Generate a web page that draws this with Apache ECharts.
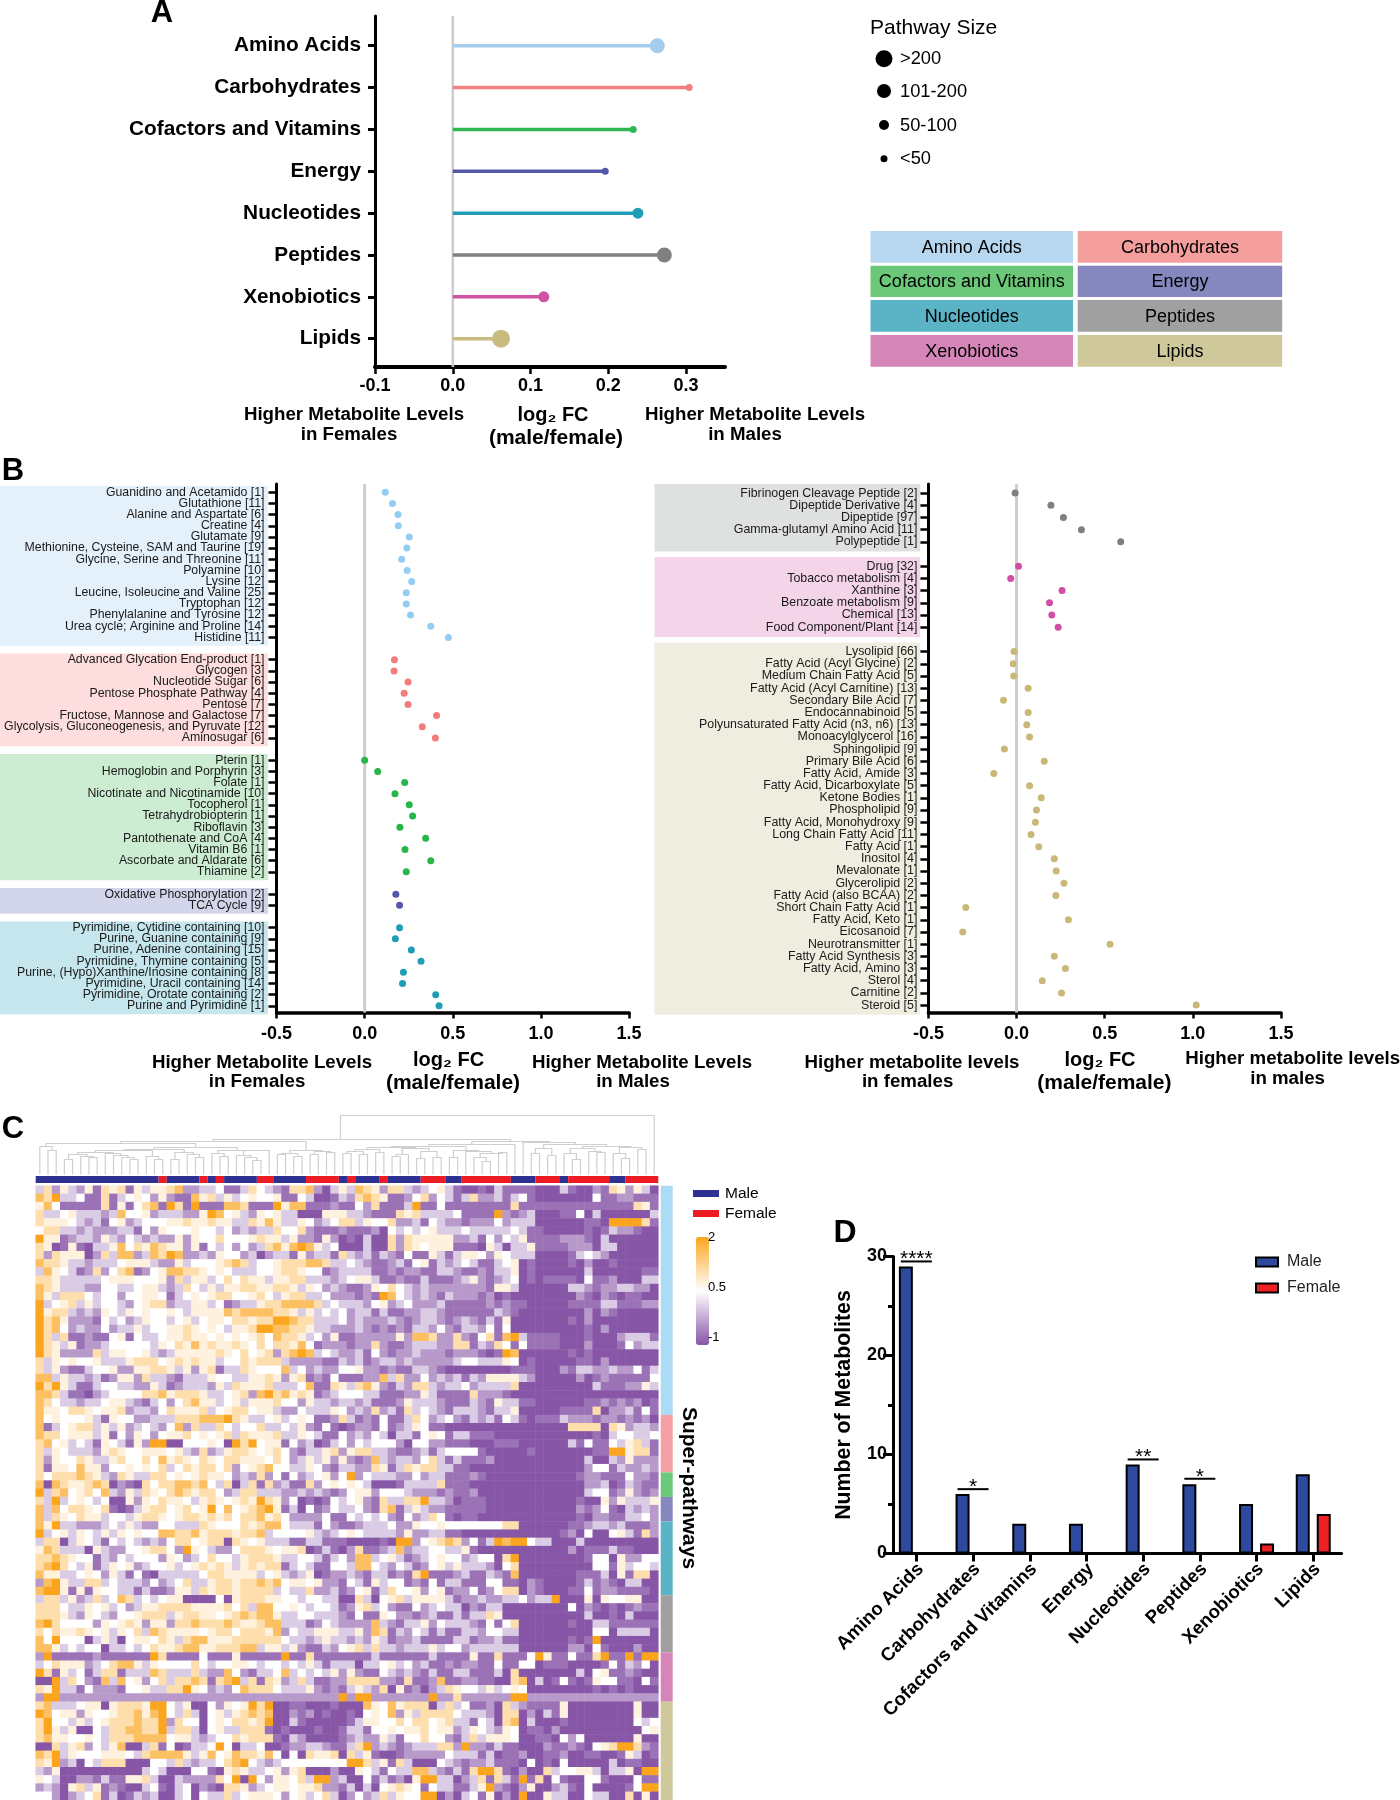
<!DOCTYPE html>
<html><head><meta charset="utf-8">
<style>html,body{margin:0;padding:0;background:#fff}#c{width:1400px;height:1800px}</style>
<script src="https://cdn.jsdelivr.net/npm/echarts@6/dist/echarts.min.js"></script>
</head><body><div id="c"></div>
<script>
// ---------- DATA ----------
const superPathways = ['Amino Acids','Carbohydrates','Cofactors and Vitamins','Energy','Nucleotides','Peptides','Xenobiotics','Lipids'];
const aValues = [0.263,0.304,0.232,0.196,0.238,0.272,0.117,0.062];
const aSizeClass = ['>200','<50','<50','<50','50-100','>200','50-100','>200+'];
const sizeLegendLabels = ['>200','101-200','50-100','<50'];

const aminoNames = ['Guanidino and Acetamido [1]','Glutathione [11]','Alanine and Aspartate [6]','Creatine [4]','Glutamate [9]','Methionine, Cysteine, SAM and Taurine [19]','Glycine, Serine and Threonine [11]','Polyamine [10]','Lysine [12]','Leucine, Isoleucine and Valine [25]','Tryptophan [12]','Phenylalanine and Tyrosine [12]','Urea cycle; Arginine and Proline [14]','Histidine [11]'];
const aminoValues = [.117,.158,.189,.191,.253,.239,.21,.241,.267,.236,.236,.26,.375,.475];
const carbNames = ['Advanced Glycation End-product [1]','Glycogen [3]','Nucleotide Sugar [6]','Pentose Phosphate Pathway [4]','Pentose [7]','Fructose, Mannose and Galactose [7]','Glycolysis, Gluconeogenesis, and Pyruvate [12]','Aminosugar [6]'];
const carbValues = [.169,.167,.246,.224,.246,.408,.327,.401];
const cofNames = ['Pterin [1]','Hemoglobin and Porphyrin [3]','Folate [1]','Nicotinate and Nicotinamide [10]','Tocopherol [1]','Tetrahydrobiopterin [1]','Riboflavin [3]','Pantothenate and CoA [4]','Vitamin B6 [1]','Ascorbate and Aldarate [6]','Thiamine [2]'];
const cofValues = [0,.074,.227,.172,.253,.272,.2,.346,.229,.375,.236];
const energyNames = ['Oxidative Phosphorylation [2]','TCA Cycle [9]'];
const energyValues = [.177,.198];
const nucNames = ['Pyrimidine, Cytidine containing [10]','Purine, Guanine containing [9]','Purine, Adenine containing [15]','Pyrimidine, Thymine containing [5]','Purine, (Hypo)Xanthine/Inosine containing [8]','Pyrimidine, Uracil containing [14]','Pyrimidine, Orotate containing [2]','Purine and Pyrimidine [1]'];
const nucValues = [.198,.174,.265,.32,.22,.215,.403,.422];
const pepNames = ['Fibrinogen Cleavage Peptide [2]','Dipeptide Derivative [4]','Dipeptide [97]','Gamma-glutamyl Amino Acid [11]','Polypeptide [1]'];
const pepValues = [-.008,.195,.266,.368,.591];
const xenoNames = ['Drug [32]','Tobacco metabolism [4]','Xanthine [3]','Benzoate metabolism [9]','Chemical [13]','Food Component/Plant [14]'];
const xenoValues = [.011,-.033,.258,.187,.2,.236];
const lipidNames = ['Lysolipid [66]','Fatty Acid (Acyl Glycine) [2]','Medium Chain Fatty Acid [5]','Fatty Acid (Acyl Carnitine) [13]','Secondary Bile Acid [7]','Endocannabinoid [5]','Polyunsaturated Fatty Acid (n3, n6) [13]','Monoacylglycerol [16]','Sphingolipid [9]','Primary Bile Acid [6]','Fatty Acid, Amide [3]','Fatty Acid, Dicarboxylate [5]','Ketone Bodies [1]','Phospholipid [9]','Fatty Acid, Monohydroxy [9]','Long Chain Fatty Acid [11]','Fatty Acid [1]','Inositol [4]','Mevalonate [1]','Glycerolipid [2]','Fatty Acid (also BCAA) [2]','Short Chain Fatty Acid [1]','Fatty Acid, Keto [1]','Eicosanoid [7]','Neurotransmitter [1]','Fatty Acid Synthesis [3]','Fatty Acid, Amino [3]','Sterol [4]','Carnitine [2]','Steroid [5]'];
const lipidValues = [-.014,-.019,-.016,.066,-.074,.066,.058,.074,-.069,.157,-.129,.074,.14,.113,.107,.082,.126,.214,.225,.269,.223,-.288,.294,-.305,.53,.214,.277,.146,.255,1.019];

// column annotation of the heat map: alternating runs, starting with Male
const sexRuns = [15,1,4,1,1,1,4,2,4,4,1,1,3,1,4,3,2,6,3,3,1,5,2,4];
// number of rows per super-pathway in the heat map
const rowsPerPathway = [28,7,3,3,9,7,6,12];
// heat-map cells: one digit per cell (colour level)
const heatLevelValues = [-1,-0.75,-0.4,0.05,0.5,0.72,1.05,1.55,2];
const heatRows = [
'3625325165 6153556722 3341136432 1667203537 6526632345 3100103111 1000310021 652530',
'7683341161 3454252117 5635345445 1143001326 7651124624 3136223134 1000000041 122111',
'5741111161 5146718618 1117761118 5771112114 2611138114 1111111161 1111111111 111651',
'6334533323 7445233322 5874532545 3300055533 2111656333 3411118212 3000114030 000003',
'6555432314 5234445565 5655336575 3354234663 5446223143 2212224233 3000000110 888861',
'4663323222 3314254445 4434232336 4462111211 1204343453 3343333343 1100000101 322100',
'8551233253 2432322525 4464445655 3522152010 3006265555 5223142435 1111222103 000000',
'6501510335 7465765525 1434242367 5787534000 3006265455 5111053033 5111122203 300000',
'6265550263 7723768722 3254423023 3152331632 3132141153 1355425433 3000013432 000000',
'7665332333 4555322534 4456763445 6667763343 2112314513 2343113450 1000010200 100000',
'3754312624 6712457766 5454333445 6654412333 3112122113 3211213350 1000000300 000011',
'6653333345 5544452635 5346465535 5663332345 5311211311 1235212340 1011110411 200033',
'7653332244 3345532364 3535566556 6535423211 2546432322 2222215530 0000033212 233220',
'7536664344 2445541345 4566445643 5663342221 2187432321 3222120100 0000002102 101100',
'8345635344 3245662335 5341233566 7777634333 2452342223 1111121211 0000011113 311122',
'8566323254 3545445435 5557677776 6535343423 3131122332 1111113210 0000000202 100000',
'8675222143 4235443453 4554665668 8766333423 2223212332 1232131500 0000010200 000000',
'8674232242 3353445565 4543556887 7665332223 2121213324 2133241400 0000000102 000000',
'8636112114 5143345565 5454545647 6653425112 2222527762 2621461783 1111000100 023331',
'8653512234 4444354657 5655654646 6574122212 2621123332 2661326414 1111000200 014233',
'8652222635 5445323555 5565464562 6787343223 1421223222 1222101870 0000010100 000000',
'6354544533 3566645656 5534465666 3222211323 1233232222 2344333540 1000001102 000000',
'6352113445 2255665352 5613365444 7342322445 2212113321 0000000011 1000213322 322413',
'7735332312 5526332133 3544335565 2561214111 2273622423 2313255553 2000002012 111114',
'8685311344 3322531233 3253655563 3347116536 7521326632 3342333360 0000000031 112253',
'7763110234 4446675666 5334562786 7565123444 3311122531 1116222100 0000000000 000000',
'7643323345 5321342467 5534535556 4425332332 3111253332 1113215331 1000000112 121201',
'7554665455 6233246555 6345664553 2243335423 2623163432 1333213350 0000111160 223141',
'7454445315 4422333666 7778653345 3454112631 2141136423 4213231431 0111322212 212120',
'7134566353 5234324726 3364344633 4352141012 2141235411 0000000000 0000066660 652332',
'7664555351 4254245564 5456365556 3354311423 2430331454 1331110000 0000000010 344334',
'6745343154 3152880044 4540868455 1423013424 3444204422 1110001110 0000031411 435631',
'6354333256 5445554532 6235665456 4213356256 6332112313 4444100000 1000000011 885661',
'6254465335 6446475654 6546655546 4235352521 2732332463 1311120000 0000000300 325222',
'6155475524 4545463465 6646245674 4335421332 2651365663 3110000000 0000000244 132232',
'6466676532 6533664545 6554232624 1423452482 4333224233 1112100000 0000001221 114221',
'7076556760 2106466776 7436036162 3116245454 3000133336 1110000000 0000000223 013211',
'8367456473 2536546765 6642366333 2232321245 5244432221 2112000000 0000000344 125212',
'6383454340 0525465543 5654565865 2401014345 2163366833 2011100000 0000001005 253335',
'7374665461 0135664564 5847456785 1304124334 2167135322 1111100000 0000002124 103232',
'7365465534 4356654566 5656466756 4222241143 4342142364 1011000000 0000001022 113342',
'7583322234 3532244333 6544465677 4333142112 3334225445 4444444660 0000011233 231112',
'8345354353 5454477667 5666566734 4445323454 3333252233 1100000000 0000120400 453162',
'3660354314 3432324664 5660654533 3113311100 0010882456 7624138788 4330003000 000000',
'5763330532 2445664285 4322466654 5560131026 1123723344 3351000000 0000020111 311000',
'6676544132 4344425423 4644356665 3344313427 7345312345 4423440680 0000000144 052244',
'6786435135 4523445345 6565356566 1343114437 7432431245 3533320460 0000000044 153443',
'7553345425 3141033333 4665555345 3235012232 1331216811 1231132170 0000001113 051660',
'2785336634 3332423463 3566566767 4554522143 1534412141 3311144110 2100001312 103300',
'7885151544 3313112553 6566566663 4336223124 5136445245 1224124660 2100011412 211110',
'3663523634 7634345500 0040566655 4434433006 3045635555 3122322334 2338000505 445500',
'6664335453 4235566665 5556463774 4543443125 6342114234 3302133000 0000040210 101211',
'6665325432 4456663566 5545676775 3344333214 1154221231 1313365000 0000000300 103000',
'7864444254 5652552667 6667655677 3331243222 2732133524 3332141460 0000010033 111111',
'6465565453 5463765555 4566466657 2433555335 2761324313 1133244330 0000000044 033330',
'7484440353 0455465367 7555666666 4332353323 2531223111 1331223110 0000010180 000000',
'7753434403 3434655677 5566677355 3521132456 3633233353 4423333330 0000022041 000200',
'2811111211 1111861111 4111511111 8116111111 1311111131 1115116111 4851141168 118188',
'3465552346 7753544446 4344554344 3435313330 3345342311 2122114114 4011100001 413240',
'8615341366 1333763336 3227421334 7343435252 1143232131 1331113060 0000003045 112100',
'0083642173 7452463667 6167836165 2363112266 6622161127 1122110067 0301410154 411041',
'6583314222 1445336685 4232476664 3335212135 3260512023 6544353454 0000000010 101000',
'2882222222 2222222222 2222222222 2222222828 8222222282 2622222288 2222222222 222222',
'6733345505 6665884350 0425458680 0110001000 7547566603 6341120632 1111500000 000500',
'8745525445 6675784363 0453567670 0212010010 4547253666 6433320660 2031500000 000500',
'6844353456 6676682644 0454665680 0310000013 5544646645 6331430670 3000100000 000434',
'6853500436 6776683663 0453366610 1000100133 1445455645 5235432540 1102000000 000045',
'6755445436 6677774553 2344656661 0320000123 2253144644 2136355540 0110424000 000500',
'0063562435 7003614013 3484033400 1223321136 8232123336 6282213110 0021121045 688621',
'7683544455 5436777753 5745766574 0406556063 5100122222 4333130112 0011200110 015301',
'6582304366 6000443632 3346784323 4444444488 6351630004 3212231110 4010400000 301100',
'3250000000 0003430004 4105653345 2560002005 4314337732 1316886102 0063445530 335088',
'5430022131 1556300322 2264808425 5463882300 4131205883 3023616318 1604100441 000411',
'2320563512 1003410340 2106652345 5455622130 3045654143 3113582102 5002310400 001488',
'4420234613 0132300340 4336345554 2453463024 2363544880 2034150208 0053300433 006050'
];
// clustering tree over the 76 columns: [merge height, left, right, optional drawn column]; a bare number is a column
const treeLeft = [31,[28,0,[24,1,2]],[27,[25,[24,[22,[20,[15,3,4],[18,5,[17,6,7]]],[21,8,[19,9,[17,10,[15,11,12]]]]],[18,13,[15,14,15]]],[22,[15,16,17],[20,18,[17,19,20]]]],[24,[21,21,[18,22,23]],[24,[19,24,[17,25,[14,26,27]]],28]]]];
const treeMid = [24,[21,[20,29,30],[18,31,32]],[23,[20,33,34],[22,35,36]]];
const treeRightA = [30,[28,[27,[25,[23,[21,37,38],[20,39,40]],[22,41,42]],[26,[20,[18,43,44],45],[23,[16,46,47],[17,48,49]]]],[24,[17,50,51],[23,52,[21,[17,53,[13,54,55]],[22,56,57]]]]],58];
const treeRightB = [32,59,[30,[26,[21,60,61],[19,62,63]],[28,[26,[21,64,[15,65,66]],[23,67,[22,68,69]]],[27,[21,70,[16,71,72]],[25,73,74]]]]];
const treeRoot = [59,[35,[33,treeLeft,treeMid],[33,treeRightA,treeRightB],37.2],75];

const dMale = [29,6,3,3,9,7,5,8];
const dFemale = [0,0,0,0,0,0,1,4];
const dSignificance = [[0,29.5,'****'],[1,6.5,'*'],[4,9.5,'**'],[5,7.55,'*']];

// ---------- STYLE ----------
const FONT = '"Liberation Sans",Arial,Helvetica,sans-serif';
const lollipopColors = ['#A3CDEE','#F47F80','#2FB552','#5558A8','#1F9DB5','#808080','#CF52A5','#C9BB80'];
const dotColors = ['#93CDF3','#F47C7C','#28B54A','#5558A8','#1E9DB5','#7F7F7F','#D14FA5','#C9B878'];
const tableColors = ['#B7D6EF','#F59E9E','#6BC878','#8488BE','#5BB3C6','#A0A0A0','#D685B8','#CFC89A'];
const annotColors = ['#ACDBF5','#F5A0A4','#6CC97A','#8488BE','#5BB3C6','#A0A0A0','#D685B8','#CFC89A'];
const bandColors = ['#E4F0FA','#FDDDDD','#CCEDD2','#D3D5EA','#C4E6EC','#DFE1E1','#F3D4E8','#EEEDDF'];
const sizePx = {'>200+':18,'>200':15,'50-100':11,'<50':7};
const sizeLegendPx = [17,14,10,7];
const SEX = ['#2E3192','#ED1C24'];

const grid=[],xAxis=[],yAxis=[],series=[],graphic=[];
const txt=(text,x,y,size,weight,align,extra)=>Object.assign({type:'text',x,y,silent:true,z:5,style:{text,fontFamily:FONT,fontSize:size,fontWeight:weight||'normal',fill:'#000',align:align||'center',verticalAlign:'middle'}},extra||{});
function addGrid(left,top,width,height){grid.push({left,top,width,height,containLabel:false});return grid.length-1;}
const off={show:false};
function frame(left,top,w,h,min,max,ticks,lineW,tickLen,margin,zeroW){
  const g=addGrid(left,top,w,h);
  const xi=xAxis.length,yi=yAxis.length;
  xAxis.push({gridIndex:g,type:'value',min,max,splitLine:off,
    axisLine:{show:true,onZero:false,lineStyle:{color:'#000',width:lineW}},
    axisTick:{show:true,length:tickLen,customValues:ticks,lineStyle:{color:'#000',width:2.5}},
    axisLabel:{customValues:ticks,formatter:v=>Number(v).toFixed(1),fontFamily:FONT,fontWeight:'bold',fontSize:18,color:'#000',margin}});
  yAxis.push({gridIndex:g,type:'value',min:0,max:1,splitLine:off,axisTick:off,axisLabel:off,
    axisLine:{show:true,onZero:false,lineStyle:{color:'#000',width:3}}});
  series.push({type:'line',xAxisIndex:xi,yAxisIndex:yi,data:[[0,0],[0,1]],symbol:'none',silent:true,z:1,lineStyle:{color:'#CDCDCD',width:zeroW}});
}

// ---------- PANEL A ----------
(function(){
  const g=addGrid(375,24.8,350,334.8);
  const xi=xAxis.length,yi=yAxis.length;
  xAxis.push({gridIndex:g,type:'value',min:-0.1,max:0.35,show:false});
  yAxis.push({gridIndex:g,type:'category',inverse:true,data:superPathways,
    axisLine:{show:false,onZero:false},
    axisTick:{show:true,alignWithLabel:true,length:7,lineStyle:{color:'#000',width:3}},
    axisLabel:{interval:0,fontFamily:FONT,fontWeight:'bold',fontSize:20.8,color:'#000',margin:14,padding:[0,0,2,0]}});
  frame(375,16,350,351,-0.1,0.35,[-0.1,0,0.1,0.2,0.3],4,7,10,2.5);
  series.push({type:'bar',xAxisIndex:xi,yAxisIndex:yi,barWidth:3.5,z:2,silent:true,
    data:aValues.map((v,i)=>({value:v,itemStyle:{color:lollipopColors[i]}}))});
  series.push({type:'scatter',xAxisIndex:xi,yAxisIndex:yi,z:3,silent:true,
    data:aValues.map((v,i)=>({value:[v,i],symbolSize:sizePx[aSizeClass[i]],itemStyle:{color:lollipopColors[i],opacity:1}}))});
  graphic.push(txt('A',162,13.5,31,'bold'));
  graphic.push(txt('Higher Metabolite Levels',354,415,18.7,'bold'),txt('in Females',349,435,18.7,'bold'),
    txt('log\u2082 FC',553,415,20,'bold'),txt('(male/female)',556,438,21,'bold'),
    txt('Higher Metabolite Levels',755,415,18.7,'bold'),txt('in Males',745,435,18.7,'bold'));
  graphic.push(txt('Pathway Size',870,28,21,'normal','left'));
  const ly=[58.7,91,125,158.7];
  sizeLegendLabels.forEach((s,i)=>{
    graphic.push({type:'circle',silent:true,z:5,shape:{cx:884,cy:ly[i],r:sizeLegendPx[i]/2},style:{fill:'#000'}});
    graphic.push(txt(s,900,ly[i]+.5,18.3,'normal','left'));
  });
  const cx=[870.5,1077.7],cw=[202.5,204.5],ry=[231,265.7,300,335],rh=[31.7,31.3,31.7,31.7];
  superPathways.forEach((s,i)=>{
    const c=i%2,r=(i-c)/2;
    graphic.push({type:'rect',silent:true,z:4,shape:{x:cx[c],y:ry[r],width:cw[c],height:rh[r]},style:{fill:tableColors[i]}});
    graphic.push(txt(s,cx[c]+cw[c]/2,ry[r]+rh[r]/2+1,18,'normal'));
  });
})();

// ---------- PANEL B ----------
function panelB(groups,left,bandTop,bandH,frameTop,frameH,bgL,bgR,padTop,padBot,labelSize,margin){
  const width=352.6;
  const rows=[],ranges=[];
  groups.forEach((gr,gi)=>{
    if(gi) rows.push('');
    ranges.push([rows.length,rows.length+gr.names.length-1,gr.idx]);
    gr.names.forEach(n=>rows.push(n));
  });
  const g=addGrid(left,bandTop,width,bandH);
  const xi=xAxis.length,yi=yAxis.length;
  xAxis.push({gridIndex:g,type:'value',min:-0.5,max:1.5,show:false});
  yAxis.push({gridIndex:g,type:'category',inverse:true,data:rows,
    axisLine:{show:false,onZero:false},
    axisTick:{show:true,alignWithLabel:true,length:8,interval:i=>rows[i]!=='',lineStyle:{color:'#000',width:2.5}},
    axisLabel:{interval:0,fontFamily:FONT,fontSize:labelSize,color:'#1a1a1a',margin,lineHeight:12}});
  series.push({type:'custom',xAxisIndex:xi,yAxisIndex:yi,z:-1,silent:true,coordinateSystem:'cartesian2d',
    data:ranges,encode:{x:-1,y:0},
    renderItem(p,api){
      const step=api.size([0,1])[1];
      const y0=api.coord([0,api.value(0)])[1]-step*padTop;
      const y1=api.coord([0,api.value(1)])[1]+step*padBot;
      return {type:'rect',shape:{x:bgL,y:y0,width:bgR-bgL,height:y1-y0},style:{fill:bandColors[api.value(2)]}};
    }});
  frame(left,frameTop,width,frameH,-0.5,1.5,[-0.5,0,0.5,1,1.5],3.5,6,12,3);
  groups.forEach((gr,gi)=>{
    const start=ranges[gi][0];
    series.push({type:'scatter',xAxisIndex:xi,yAxisIndex:yi,z:3,silent:true,symbolSize:7,
      itemStyle:{color:dotColors[gr.idx],opacity:1},
      data:gr.values.map((v,i)=>[v,start+i])});
  });
}
panelB([{names:aminoNames,values:aminoValues,idx:0},{names:carbNames,values:carbValues,idx:1},{names:cofNames,values:cofValues,idx:2},{names:energyNames,values:energyValues,idx:3},{names:nucNames,values:nucValues,idx:4}],
  276.5,486.7,524.7,484,528.6,0,268,0.56,0.75,12.3,12);
panelB([{names:pepNames,values:pepValues,idx:5},{names:xenoNames,values:xenoValues,idx:6},{names:lipidNames,values:lipidValues,idx:7}],
  928.4,487,524.2,484,528.6,654.5,920.2,0.75,0.8,12.4,11);
graphic.push(txt('B',13,471,31,'bold'));
graphic.push(txt('Higher Metabolite Levels',262,1062.4,18.7,'bold'),txt('in Females',257,1081.8,18.7,'bold'),
  txt('log\u2082 FC',448.6,1060.7,20,'bold'),txt('(male/female)',453,1083.5,21,'bold'),
  txt('Higher Metabolite Levels',642,1062.4,18.7,'bold'),txt('in Males',633,1081.8,18.7,'bold'),
  txt('Higher metabolite levels',912,1062.4,18.7,'bold'),txt('in females',907.6,1081.8,18.7,'bold'),
  txt('log\u2082 FC',1100,1060.7,20,'bold'),txt('(male/female)',1104.4,1083.5,21,'bold'),
  txt('Higher metabolite levels',1292.7,1059,18.7,'bold'),txt('in males',1287.6,1078.5,18.7,'bold'));

// ---------- PANEL C ----------
var option_visual;
(function(){
  const L=35.7,W=622.6,TOP=1185.7,H=614.3;
  const cols=Array.from({length:76},(_,i)=>i), rowIdx=Array.from({length:heatRows.length},(_,i)=>i);
  // dendrogram
  const segs=[];
  (function walk(n){
    if(typeof n==='number') return [n+0.5,0];
    const a=walk(n[1]),b=walk(n[2]);
    segs.push([a[0],a[1],b[0],b[1],n[0]]);
    return [n[3]!==undefined?n[3]:(a[0]+b[0])/2,n[0]];
  })(treeRoot);
  let g=addGrid(L,1115.5,W,59);
  xAxis.push({gridIndex:g,type:'value',min:0,max:76,show:false});
  yAxis.push({gridIndex:g,type:'value',min:0,max:59,show:false});
  series.push({type:'custom',xAxisIndex:xAxis.length-1,yAxisIndex:yAxis.length-1,silent:true,data:segs,encode:{x:0,y:1},
    renderItem(p,api){
      const c=(x,y)=>api.coord([x,y]);
      return {type:'polyline',shape:{points:[c(api.value(0),api.value(1)),c(api.value(0),api.value(4)),c(api.value(2),api.value(4)),c(api.value(2),api.value(3))]},
        style:{stroke:'#CFCFCF',lineWidth:1.2,fill:null}};
    }});
  // sex strip
  const runs=[];let pos=0;
  sexRuns.forEach((n,i)=>{runs.push([pos,pos+n,i%2]);pos+=n;});
  g=addGrid(L,1176,W,7);
  xAxis.push({gridIndex:g,type:'value',min:0,max:76,show:false});
  yAxis.push({gridIndex:g,type:'value',min:0,max:1,show:false});
  series.push({type:'custom',xAxisIndex:xAxis.length-1,yAxisIndex:yAxis.length-1,silent:true,data:runs,encode:{x:[0,1]},
    renderItem(p,api){
      const a=api.coord([api.value(0),1]),b=api.coord([api.value(1),0]);
      return {type:'rect',shape:{x:a[0],y:a[1],width:b[0]-a[0],height:b[1]-a[1]},style:{fill:SEX[api.value(2)]}};
    }});
  // heat map
  g=addGrid(L,TOP,W,H);
  xAxis.push({gridIndex:g,type:'category',data:cols,show:false,splitArea:off});
  yAxis.push({gridIndex:g,type:'category',data:rowIdx,inverse:true,show:false,splitArea:off});
  const cells=[];
  heatRows.forEach((s,r)=>{
    s.replace(/ /g,'').split('').forEach((d,c)=>cells.push([c,r,heatLevelValues[+d]]));
  });
  const heatIndex=series.length;
  series.push({type:'heatmap',xAxisIndex:xAxis.length-1,yAxisIndex:yAxis.length-1,data:cells,silent:true,progressive:0,
    itemStyle:{borderWidth:0}});
  // pathway side strip
  const blocks=[];let rp=0;
  rowsPerPathway.forEach((n,i)=>{blocks.push([rp,rp+n,i]);rp+=n;});
  g=addGrid(660.7,TOP,12,H);
  xAxis.push({gridIndex:g,type:'value',min:0,max:1,show:false});
  yAxis.push({gridIndex:g,type:'value',min:0,max:heatRows.length,inverse:true,show:false});
  series.push({type:'custom',xAxisIndex:xAxis.length-1,yAxisIndex:yAxis.length-1,silent:true,data:blocks,encode:{y:[0,1]},
    renderItem(p,api){
      const a=api.coord([0,api.value(0)]),b=api.coord([1,api.value(1)]);
      return {type:'rect',shape:{x:a[0],y:a[1],width:b[0]-a[0],height:b[1]-a[1]},style:{fill:annotColors[api.value(2)]}};
    }});
  option_visual={type:'continuous',seriesIndex:heatIndex,dimension:2,min:-1,max:2,calculable:false,realtime:false,
    left:681,top:1222,itemWidth:13,itemHeight:108,text:null,showLabel:false,
    inRange:{color:['#8856A7','#FFFFFF','#FBA51E']}};
  graphic.push(txt('C',13,1129,31,'bold'));
  graphic.push({type:'rect',silent:true,z:5,shape:{x:693,y:1190,width:26,height:7},style:{fill:SEX[0]}},
    {type:'rect',silent:true,z:5,shape:{x:693,y:1210,width:26,height:7},style:{fill:SEX[1]}},
    txt('Male',725,1193.5,15.5,'normal','left'),txt('Female',725,1213.5,15.5,'normal','left'),
    txt('2',708,1237,13,'normal','left'),txt('0.5',708,1287,13,'normal','left'),txt('-1',708,1337,13,'normal','left'));
  graphic.push(txt('Super-pathways',689,1488,21,'bold','center',{rotation:-Math.PI/2}));
})();

// ---------- PANEL D ----------
(function(){
  const g=addGrid(888,1256.5,453.6,297);
  const xi=xAxis.length,yi=yAxis.length;
  xAxis.push({gridIndex:g,type:'category',data:superPathways,
    axisLine:{show:true,lineStyle:{color:'#000',width:3}},
    axisTick:{show:true,alignWithLabel:true,length:8,lineStyle:{color:'#000',width:3}},
    axisLabel:{interval:0,rotate:45,margin:17,padding:[0,-6,0,0],fontFamily:FONT,fontWeight:'bold',fontSize:18.7,color:'#000'}});
  yAxis.push({gridIndex:g,type:'value',min:0,max:30,interval:10,offset:-5,splitLine:off,
    axisLine:{show:true,lineStyle:{color:'#000',width:3}},
    axisTick:{show:true,length:10,lineStyle:{color:'#000',width:3}},
    minorTick:{show:true,splitNumber:2,length:5,lineStyle:{color:'#000',width:3}},
    minorSplitLine:off,
    axisLabel:{fontFamily:FONT,fontWeight:'bold',fontSize:18,color:'#000',margin:6},
    name:'Number of Metabolites',nameLocation:'middle',nameRotate:90,nameGap:38,
    nameTextStyle:{fontFamily:FONT,fontWeight:'bold',fontSize:21.3,color:'#000'}});
  series.push({name:'Male',type:'bar',xAxisIndex:xi,yAxisIndex:yi,data:dMale,barWidth:14,barGap:'50%',silent:true,
    itemStyle:{color:'#2E4A9E',borderColor:'#000',borderWidth:2}});
  series.push({name:'Female',type:'bar',xAxisIndex:xi,yAxisIndex:yi,data:dFemale,barWidth:14,barGap:'50%',silent:true,
    itemStyle:{color:'#ED2024',borderColor:'#000',borderWidth:2}});
  series.push({type:'custom',xAxisIndex:xi,yAxisIndex:yi,silent:true,z:4,data:dSignificance.map(d=>[d[0],d[1],d[2]]),
    renderItem(p,api){
      const c=api.coord([api.value(0),api.value(1)]);
      return {type:'group',children:[
        {type:'line',shape:{x1:c[0]-15.5,y1:c[1],x2:c[0]+15.5,y2:c[1]},style:{stroke:'#000',lineWidth:2}},
        {type:'text',x:c[0],y:c[1]-2,style:{text:dSignificance[p.dataIndex][2],fontFamily:FONT,fontSize:21,fill:'#000',align:'center',verticalAlign:'middle'}}
      ]};
    }});
  graphic.push(txt('D',845,1233,32,'bold'));
})();

const chart=echarts.init(document.getElementById('c'),null,{renderer:'canvas',width:1400,height:1800});
chart.setOption({animation:false,backgroundColor:'#fff',textStyle:{fontFamily:FONT},
  grid,xAxis,yAxis,series,graphic:{elements:graphic},
  visualMap:[option_visual],
  legend:{data:['Male','Female'],orient:'vertical',left:1250,top:1249,itemWidth:22,itemHeight:9,itemGap:10,icon:'rect',selectedMode:false,
    textStyle:{fontFamily:FONT,fontSize:16,color:'#222',padding:[0,0,0,4]}}});
</script></body></html>
